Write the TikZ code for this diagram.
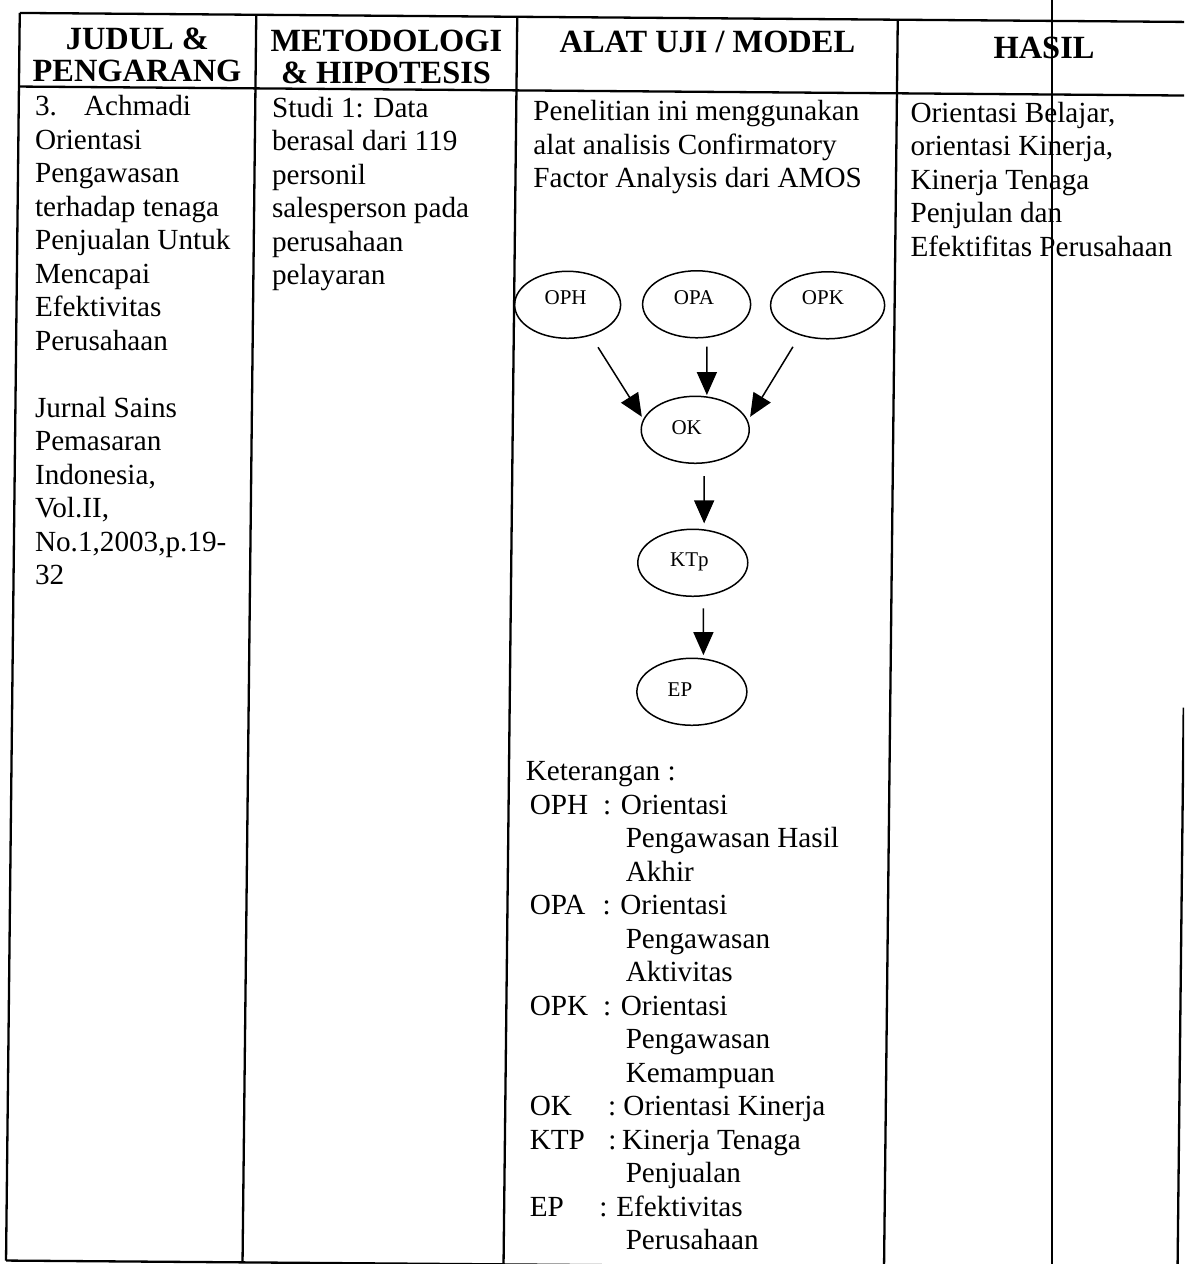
\documentclass[tikz,border=0pt]{standalone}
\usepackage{fontspec}
\setmainfont{Liberation Serif}
\usetikzlibrary{shapes.geometric,arrows.meta}

% body text size and line spacing
\newcommand\bodysize{\fontsize{14.6pt}{16.75pt}\selectfont}
% legend row: abbreviation, colon position, definition position, definition
\newcommand\kab[4]{\hspace*{2pt}\makebox[0pt][l]{#1}\makebox[0pt][l]{\hspace*{\dimexpr#2-2pt\relax}:}\hspace*{\dimexpr#3-2pt\relax}#4}
% legend continuation line
\newcommand\kcont[1]{\hspace*{50pt}#1}

\begin{document}
\begin{tikzpicture}[x=0.5pt,y=-0.5pt,
  rule/.style={line width=1.15pt},
  var/.style={ellipse,draw,line width=0.75pt,inner sep=0pt,minimum height=33.5pt},
  vlbl/.style={anchor=base,inner sep=0pt,font=\fontsize{10.5pt}{12pt}\selectfont},
  arr/.style={line width=0.75pt,-{Triangle[length=11.5pt,width=10pt]}},
  head/.style={anchor=base,inner sep=0pt,font=\bfseries\fontsize{16.2pt}{18pt}\selectfont},
  cell/.style={anchor=base west,inner sep=0pt},
]
\useasboundingbox (0,0) rectangle (1184,1264);
\clip (0,0) rectangle (1184,1264);
\fill[white] (0,0) rectangle (1184,1264);

\begin{scope}[cm={1,-0.0077,0.011,1,(3.476pt,2.279pt)}]
  % table grid
  \draw[rule] (13,17.4) -- (1205,17.4);
  \draw[rule] (13,91) -- (1205,91);
  \draw[rule] (13,1265) -- (1205,1265);
  \foreach \cx in {13,249.5,510.5,891}
    \draw[rule] (\cx,17.4) -- (\cx,1265);
  \draw[rule] (1184.5,703) -- (1184.5,1265);

  % column headings
  \node[head] (h1a) at (131,53) {JUDUL \&};
  \node[head] (h1b) at (131,84.7) {PENGARANG};
  \node[head] (h2a) at (380,53) {METODOLOGI};
  \node[head] (h2b) at (380,84.7) {\& HIPOTESIS};
  \node[head] (h3) at (701,52) {ALAT UJI / MODEL};
  \node[head] (h4) at (1037.7,55) {HASIL};

  % column contents
  \node[cell] (c1) at (29,120) {\parbox[t]{230pt}{\bodysize\raggedright
    \makebox[24.5pt][l]{3.}Achmadi\\
    Orientasi\\
    Pengawasan\\
    terhadap tenaga\\
    Penjualan Untuk\\
    Mencapai\\
    Efektivitas\\
    Perusahaan\\
    \mbox{}\\
    Jurnal Sains\\
    Pemasaran\\
    Indonesia,\\
    Vol.II,\\
    No.1,2003,p.19-\\
    32}};
  \node[cell] (c2) at (266,120) {\parbox[t]{230pt}{\bodysize\raggedright
    Studi 1: Data\\
    berasal dari 119\\
    personil\\
    salesperson pada\\
    perusahaan\\
    pelayaran}};
  \node[cell] (c3) at (527.4,121) {\parbox[t]{230pt}{\bodysize\raggedright
    Penelitian ini menggunakan\\
    alat analisis Confirmatory\\
    Factor Analysis dari AMOS}};
  \node[cell] (c4) at (904.5,120) {\parbox[t]{230pt}{\bodysize\raggedright
    Orientasi Belajar,\\
    orientasi Kinerja,\\
    Kinerja Tenaga\\
    Penjulan dan\\
    Efektifitas Perusahaan}};

  % path model
  \node[var,minimum width=53pt] (OPH) at (564,305) {};
  \node[var,minimum width=54pt] (OPA) at (693,303.5) {};
  \node[var,minimum width=57pt] (OPK) at (824,303.5) {};
  \node[var,minimum width=54pt] (OK)  at (693,429) {};
  \node[var,minimum width=55pt] (KTp) at (692,562) {};
  \node[var,minimum width=55pt] (EP)  at (692.5,691) {};

  \node[vlbl] (OPH-t) at (562,305.2) {OPH};
  \node[vlbl] (OPA-t) at (690.4,304.2) {OPA};
  \node[vlbl] (OPK-t) at (819.3,303.2) {OPK};
  \node[vlbl] (OK-t)  at (684.5,434.2) {OK};
  \node[vlbl] (KTp-t) at (688.7,565.9) {KTp};
  \node[vlbl] (EP-t)  at (680.7,695.9) {EP};

  \draw[arr] ([shift={(30.8,42.2)}]OPH.center) -- ([shift={(-53.7,-12.7)}]OK.center);
  \draw[arr] ([shift={(10.6,42.3)}]OPA.center) -- ([shift={(11.1,-34.9)}]OK.center);
  \draw[arr] ([shift={(-34.4,41.7)}]OPK.center) -- ([shift={(54.6,-13.5)}]OK.center);
  \draw[arr] ([shift={(9.3,46.1)}]OK.center) -- ([shift={(10.8,-39.6)}]KTp.center);
  \draw[arr] ([shift={(11,45.4)}]KTp.center) -- ([shift={(11,-36.9)}]EP.center);

  % legend
  \node[cell] (leg) at (527,781) {\parbox[t]{230pt}{\bodysize\raggedright
    Keterangan :\\
    \kab{OPH}{38.65pt}{47.6pt}{Orientasi}\\
    \kcont{Pengawasan Hasil}\\
    \kcont{Akhir}\\
    \kab{OPA}{38.4pt}{47.3pt}{Orientasi}\\
    \kcont{Pengawasan}\\
    \kcont{Aktivitas}\\
    \kab{OPK}{38.65pt}{47.5pt}{Orientasi}\\
    \kcont{Pengawasan}\\
    \kcont{Kemampuan}\\
    \kab{OK}{41.25pt}{48.85pt}{Orientasi Kinerja}\\
    \kab{KTP}{41.35pt}{48.2pt}{Kinerja Tenaga}\\
    \kcont{Penjualan}\\
    \kab{EP}{36.75pt}{45.25pt}{Efektivitas}\\
    \kcont{Perusahaan}}};
\end{scope}

% thin vertical rule crossing the last column
\draw[line width=0.9pt] (1052,0) -- (1052,1264);
\end{tikzpicture}
\end{document}
